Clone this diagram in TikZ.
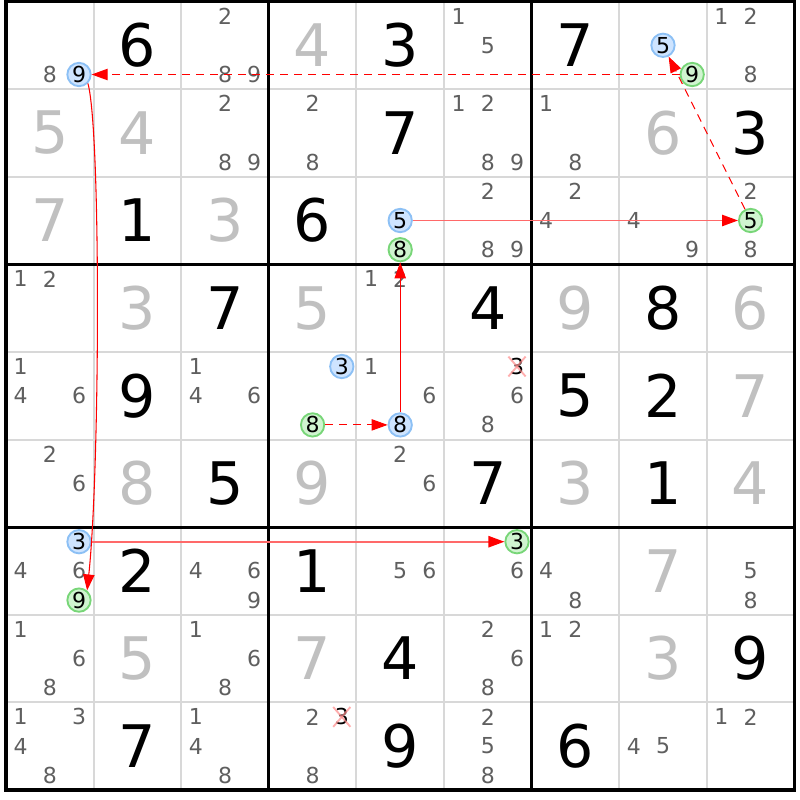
\documentclass[tikz,border=0pt]{standalone}
\usepackage{fontspec}
\setmainfont{DejaVu Sans}
\usetikzlibrary{arrows.meta}
\definecolor{candgray}{RGB}{95,95,95}
\definecolor{solvedgray}{RGB}{192,192,192}
\definecolor{cellline}{RGB}{216,216,216}
\definecolor{bluefill}{RGB}{206,228,255}
\definecolor{bluedraw}{RGB}{140,192,245}
\definecolor{greenfill}{RGB}{208,244,208}
\definecolor{greendraw}{RGB}{120,214,120}
\definecolor{lightred}{RGB}{255,105,105}
\tikzset{
  given/.style={inner sep=0pt, font=\fontsize{44}{44}\selectfont, text=black},
  solved/.style={inner sep=0pt, font=\fontsize{44}{44}\selectfont, text=solvedgray},
  cand/.style={inner sep=0pt, font=\fontsize{16.5}{17}\selectfont, text=candgray},
  bluec/.style={circle, inner sep=0pt, minimum size=17.5pt, fill=bluefill, draw=bluedraw, line width=1.4pt, text=black},
  greenc/.style={circle, inner sep=0pt, minimum size=17.5pt, fill=greenfill, draw=greendraw, line width=1.4pt, text=black},
  arr/.style={draw=red, line width=0.8pt, -{Triangle[length=12pt,width=8.5pt,color=red,fill=red]}},
  dashline/.style={dash pattern=on 6pt off 4.5pt},
  softline/.style={draw=lightred, line width=1.2pt},
  xmark/.style={draw=red!45, line width=1.4pt, opacity=0.7},
}
\begin{document}
\begin{tikzpicture}[x=0.75pt, y=-0.75pt]
\useasboundingbox (0,0) rectangle (800,800);
\fill[white] (0,0) rectangle (800,800);
% cell lines
\foreach \i in {1,2,4,5,7,8} {
  \draw[cellline, line width=1.5pt] ({6+\i*87.6},1.5) -- ({6+\i*87.6},790);
  \draw[cellline, line width=1.5pt] (6,{1.5+\i*87.6}) -- (794.4,{1.5+\i*87.6});
}
% box lines
\foreach \i in {3,6} {
  \draw[black, line width=2.3pt] ({6+\i*87.6},1.5) -- ({6+\i*87.6},790);
  \draw[black, line width=2.3pt] (6,{1.5+\i*87.6}) -- (794.4,{1.5+\i*87.6});
}
\draw[black, line width=2.3pt] (6,1.5) rectangle (794.4,790);
% givens
\foreach \r/\c/\d in {0/1/6,0/4/3,0/6/7,1/4/7,1/8/3,2/1/1,2/3/6,3/2/7,3/5/4,3/7/8,4/1/9,4/6/5,4/7/2,5/2/5,5/5/7,5/7/1,6/1/2,6/3/1,7/4/4,7/8/9,8/1/7,8/4/9,8/6/6} {
  \node[given] (g\r\c) at ({6+(\c+0.5)*87.6},{1.5+(\r+0.5)*87.6}) {\d};
}
% solved
\foreach \r/\c/\d in {0/3/4,1/0/5,1/1/4,1/7/6,2/0/7,2/2/3,3/1/3,3/3/5,3/6/9,3/8/6,4/8/7,5/1/8,5/3/9,5/6/3,5/8/4,6/7/7,7/1/5,7/3/7,7/7/3} {
  \node[solved] (s\r\c) at ({6+(\c+0.5)*87.6},{1.5+(\r+0.5)*87.6}) {\d};
}
% plain candidates
\foreach \r/\c/\d in {0/0/8,0/2/2,0/2/8,0/2/9,0/5/1,0/5/5,0/8/1,0/8/2,0/8/8,
  1/2/2,1/2/8,1/2/9,1/3/2,1/3/8,1/5/1,1/5/2,1/5/8,1/5/9,1/6/1,1/6/8,
  2/5/2,2/5/8,2/5/9,2/6/2,2/6/4,2/7/4,2/7/9,2/8/2,2/8/8,
  3/0/1,3/0/2,3/4/1,3/4/2,
  4/0/1,4/0/4,4/0/6,4/2/1,4/2/4,4/2/6,4/4/1,4/4/6,4/5/6,4/5/8,
  5/0/2,5/0/6,5/4/2,5/4/6,
  6/0/4,6/0/6,6/2/4,6/2/6,6/2/9,6/4/5,6/4/6,6/5/6,6/6/4,6/6/8,6/8/5,6/8/8,
  7/0/1,7/0/6,7/0/8,7/2/1,7/2/6,7/2/8,7/5/2,7/5/6,7/5/8,7/6/1,7/6/2,
  8/0/1,8/0/3,8/0/4,8/0/8,8/2/1,8/2/4,8/2/8,8/3/2,8/3/8,8/5/2,8/5/5,8/5/8,8/7/4,8/7/5,8/8/1,8/8/2} {
  \pgfmathsetmacro\xx{6+\c*87.6+(mod(\d-1,3)+0.5)*29.2}
  \pgfmathsetmacro\yy{1.5+\r*87.6+(floor((\d-1)/3)+0.5)*29.2}
  \node[cand] (k\r\c\d) at (\xx,\yy) {\d};
}
% blue circled candidates
\foreach \r/\c/\d in {0/0/9,0/7/5,2/4/5,4/3/3,4/4/8,6/0/3} {
  \pgfmathsetmacro\xx{6+\c*87.6+(mod(\d-1,3)+0.5)*29.2}
  \pgfmathsetmacro\yy{1.5+\r*87.6+(floor((\d-1)/3)+0.5)*29.2}
  \node[cand, bluec] (k\r\c\d) at (\xx,\yy) {\d};
}
% green circled candidates
\foreach \r/\c/\d in {0/7/9,2/4/8,2/8/5,4/3/8,6/0/9,6/5/3} {
  \pgfmathsetmacro\xx{6+\c*87.6+(mod(\d-1,3)+0.5)*29.2}
  \pgfmathsetmacro\yy{1.5+\r*87.6+(floor((\d-1)/3)+0.5)*29.2}
  \node[cand, greenc] (k\r\c\d) at (\xx,\yy) {\d};
}
% crossed candidates
\foreach \r/\c/\d in {4/5/3,8/3/3} {
  \pgfmathsetmacro\xx{6+\c*87.6+(mod(\d-1,3)+0.5)*29.2}
  \pgfmathsetmacro\yy{1.5+\r*87.6+(floor((\d-1)/3)+0.5)*29.2}
  \node[cand, text=black] (k\r\c\d) at (\xx,\yy) {\d};
  \draw[xmark] ([shift={(-1pt,1pt)}]k\r\c\d.north west) -- ([shift={(1pt,-1pt)}]k\r\c\d.south east);
  \draw[xmark] ([shift={(1pt,1pt)}]k\r\c\d.north east) -- ([shift={(-1pt,-1pt)}]k\r\c\d.south west);
}
% arrows
\draw[arr, dashline] (k079) -- (k009);
\draw[arr, dashline] (k285) -- (k075);
\draw[arr, softline] (k245) -- (k285);
\draw[arr] (k009.-45) .. controls (101,130) and (100,470) .. (k609.50);
\draw[arr, softline] (k603) -- (k653);
\draw[arr, dashline] (k438) -- (k448);
\draw[arr] (k448) -- (k248);
\end{tikzpicture}
\end{document}
